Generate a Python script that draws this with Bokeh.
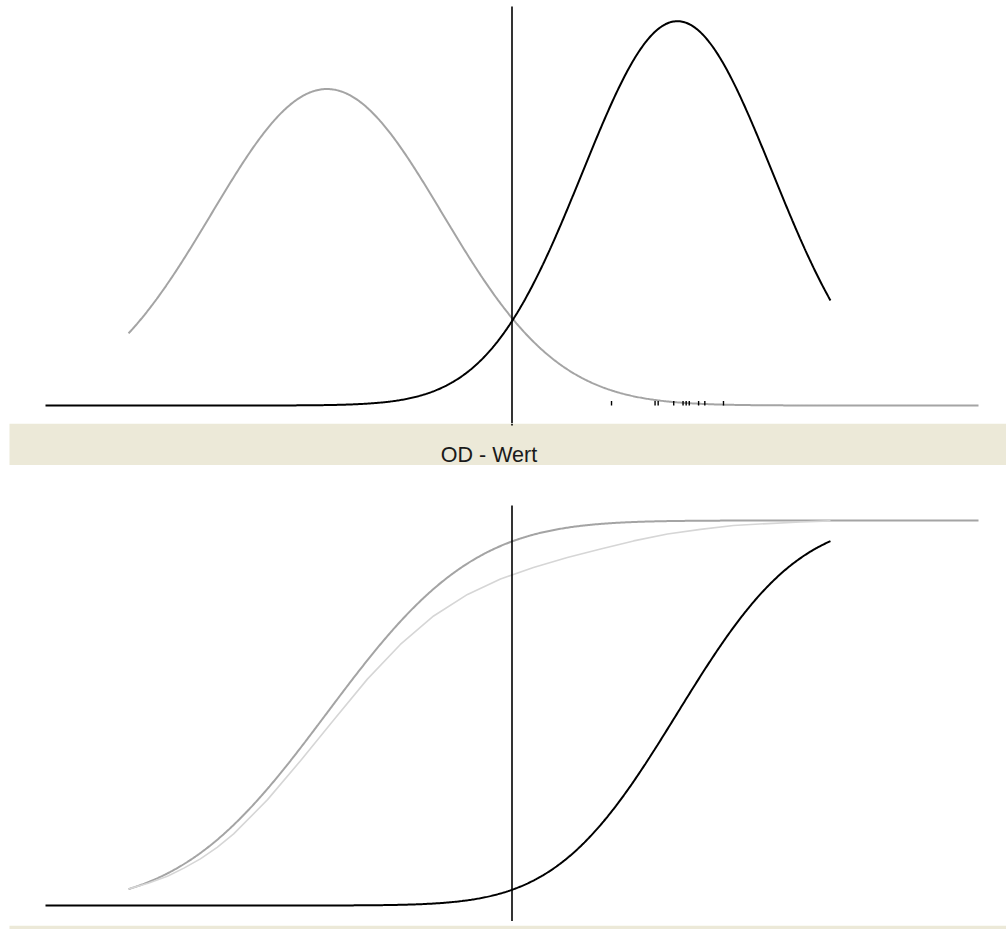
import math
import numpy as np
from bokeh.plotting import figure
from bokeh.models import Range1d
from bokeh.layouts import column
from bokeh.core.properties import value
from bokeh.embed import file_html
from bokeh.resources import INLINE

# Fitted normal distributions of the OD values (negatives / positives)
neg_mean, neg_sd = 0.905, 0.371
pos_mean, pos_sd = 2.032, 0.3055
cutoff = 1.5

# OD spans over which each distribution is drawn
neg_span = [0.267, 3.0]
pos_span = [0.0, 2.524]

# individual OD values of the positive samples (rug on the density axis)
pos_samples = [1.82, 1.96, 1.97, 2.02, 2.05, 2.06, 2.07, 2.10, 2.12, 2.18]

# observed cumulative share of the negative samples
obs_od = [0.267, 0.330, 0.392, 0.445, 0.498, 0.552, 0.605, 0.714, 0.820, 0.926,
          1.035, 1.141, 1.248, 1.357, 1.463, 1.569, 1.678, 1.785, 1.891, 2.000,
          2.106, 2.212, 2.322, 2.428, 2.524]
obs_cum = [0.043, 0.058, 0.076, 0.097, 0.121, 0.151, 0.186, 0.275, 0.376, 0.481,
           0.588, 0.678, 0.752, 0.808, 0.848, 0.878, 0.904, 0.926, 0.947, 0.965,
           0.977, 0.987, 0.992, 0.996, 0.999]

# colours
NEG_COL = "#a4a4a4"
OBS_COL = "#d6d6d6"
POS_COL = "#000000"
BAND_COL = "#ECE9D8"

# page geometry (pixels)
W = 1006
X0 = 45            # pixel of OD 0
PX_PER_OD = 311.0
H_TOP, TOP_BASE, PX_PER_DENS = 423, 405, 294.3
H_BAND = 42
H_BOT, BOT_ZERO, PX_PER_CUM = 456, 440, 385.0
H_STRIP = 8
LEFT_GAP = 9

x_range = Range1d(-X0 / PX_PER_OD, (W - X0) / PX_PER_OD)


def pdf(x, m, s):
    return np.exp(-0.5 * ((x - m) / s) ** 2) / (s * math.sqrt(2 * math.pi))


def cdf(x, m, s):
    return np.array([0.5 * (1 + math.erf((v - m) / (s * math.sqrt(2)))) for v in x])


def bare(height, x_rng, y_rng):
    fig = figure(width=W, height=height, x_range=x_rng, y_range=y_rng,
                 toolbar_location=None, output_backend="svg",
                 x_axis_location=None, y_axis_location=None,
                 min_border=0, min_border_left=0, min_border_right=0,
                 min_border_top=0, min_border_bottom=0,
                 background_fill_color="white", border_fill_color="white")
    fig.grid.visible = False
    fig.outline_line_color = None
    return fig


neg_x = np.linspace(neg_span[0], neg_span[1], 700)
pos_x = np.linspace(pos_span[0], pos_span[1], 700)

# --- density panel -------------------------------------------------------
top = bare(H_TOP, x_range,
           Range1d(-(H_TOP - TOP_BASE) / PX_PER_DENS, TOP_BASE / PX_PER_DENS))
top.line(neg_x, pdf(neg_x, neg_mean, neg_sd), line_color=NEG_COL, line_width=2)
top.line(pos_x, pdf(pos_x, pos_mean, pos_sd), line_color=POS_COL, line_width=2)
tick_h = 4.5 / PX_PER_DENS
top.segment(x0=pos_samples, x1=pos_samples, y0=[0] * len(pos_samples),
            y1=[tick_h] * len(pos_samples), line_color=POS_COL, line_width=1.4)
top.segment(x0=[cutoff], x1=[cutoff], y0=[top.y_range.start],
            y1=[(TOP_BASE - 6) / PX_PER_DENS], line_color="#000000", line_width=1.6)

# --- axis caption band (pixel coordinates) -------------------------------
band = bare(H_BAND, Range1d(0, W), Range1d(H_BAND, 0))
band.quad(left=[LEFT_GAP], right=[W], top=[0], bottom=[H_BAND],
          fill_color=BAND_COL, line_color=None)
cut_px = X0 + cutoff * PX_PER_OD
band.segment(x0=[cut_px], x1=[cut_px], y0=[0], y1=[2], line_color="#000000", line_width=1.6)
band.text(x=[488.5], y=[31], text=["OD - Wert"], text_align="center",
          text_baseline="alphabetic", text_font=value("Liberation Sans"),
          text_font_size="21.5px", text_color="#1a1a1a")

# --- cumulative panel ----------------------------------------------------
bot = bare(H_BOT, x_range,
           Range1d(-(H_BOT - BOT_ZERO) / PX_PER_CUM, BOT_ZERO / PX_PER_CUM))
bot.line(neg_x, cdf(neg_x, neg_mean, neg_sd), line_color=NEG_COL, line_width=2)
bot.line(obs_od, obs_cum, line_color=OBS_COL, line_width=1.6)
bot.line(pos_x, cdf(pos_x, pos_mean, pos_sd), line_color=POS_COL, line_width=2)
bot.segment(x0=[cutoff], x1=[cutoff], y0=[bot.y_range.start],
            y1=[(BOT_ZERO - 40) / PX_PER_CUM], line_color="#000000", line_width=1.6)

# --- bottom strip (pixel coordinates) ------------------------------------
strip = bare(H_STRIP, Range1d(0, W), Range1d(0, H_STRIP))
strip.quad(left=[LEFT_GAP], right=[W], top=[H_STRIP], bottom=[0],
           fill_color=BAND_COL, line_color=None)

layout = column(top, band, bot, strip, spacing=0)
open("out.html", "w").write(file_html(layout, INLINE))
